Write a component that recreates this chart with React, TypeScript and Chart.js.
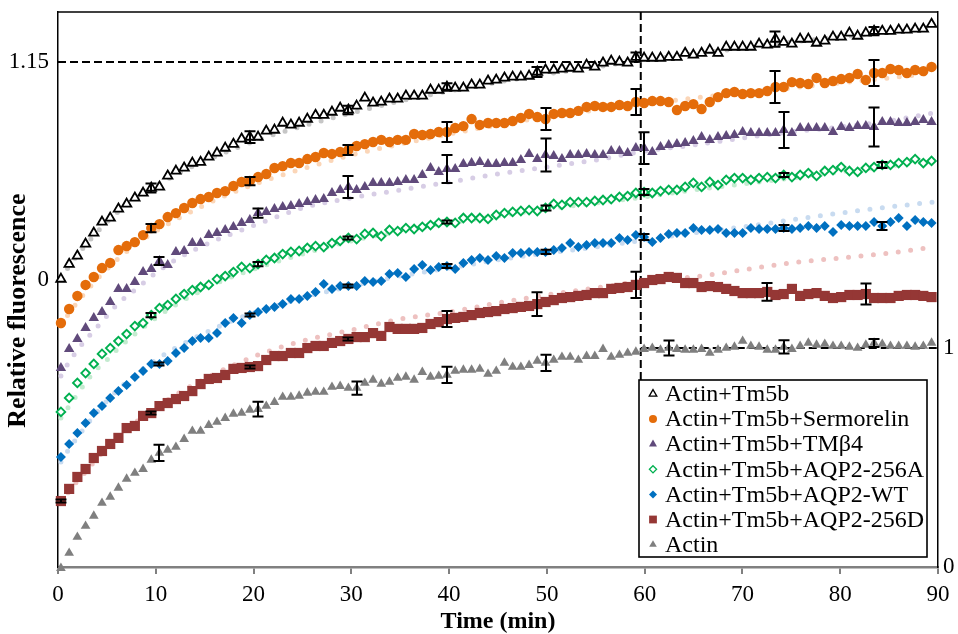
import { useEffect, useRef } from 'react';
import { Chart, registerables } from 'chart.js';

Chart.register(...registerables);

const SERIF = '"Liberation Serif", "Times New Roman", Times, serif';

// Plate-reader read times (min)
const TIMES = [
  0.3, 1.14, 1.98, 2.82, 3.66, 4.5, 5.34, 6.18, 7.02, 7.86,
  8.7, 9.54, 10.38, 11.22, 12.06, 12.9, 13.74, 14.58, 15.42, 16.26,
  17.1, 17.94, 18.78, 19.62, 20.46, 21.3, 22.14, 22.98, 23.82, 24.66,
  25.5, 26.34, 27.18, 28.02, 28.86, 29.7, 30.54, 31.38, 32.22, 33.06,
  33.9, 34.74, 35.58, 36.42, 37.26, 38.1, 38.94, 39.78, 40.62, 41.46,
  42.3, 43.14, 43.98, 44.82, 45.66, 46.5, 47.34, 48.18, 49.02, 49.86,
  50.7, 51.54, 52.38, 53.22, 54.06, 54.9, 55.74, 56.58, 57.42, 58.26,
  59.1, 59.94, 60.78, 61.62, 62.46, 63.3, 64.14, 64.98, 65.82, 66.66,
  67.5, 68.34, 69.18, 70.02, 70.86, 71.7, 72.54, 73.38, 74.22, 75.06,
  75.9, 76.74, 77.58, 78.42, 79.26, 80.1, 80.94, 81.78, 82.62, 83.46,
  84.3, 85.14, 85.98, 86.82, 87.66, 88.5, 89.34,
];

// Relative fluorescence, left axis
const ACTIN_TM5B = [
  0.005, 0.084, 0.127, 0.19, 0.248, 0.306, 0.327, 0.375, 0.401, 0.433,
  0.459, 0.485, 0.491, 0.549, 0.575, 0.591, 0.617, 0.622, 0.649, 0.67,
  0.696, 0.717, 0.744, 0.754, 0.754, 0.786, 0.791, 0.828, 0.818, 0.828,
  0.849, 0.87, 0.87, 0.886, 0.907, 0.897, 0.918, 0.96, 0.934, 0.939,
  0.955, 0.955, 0.971, 0.971, 0.971, 1.002, 1.002, 1.018, 1.013, 1.013,
  1.029, 1.029, 1.05, 1.055, 1.066, 1.071, 1.071, 1.076, 1.097, 1.108,
  1.108, 1.113, 1.118, 1.113, 1.134, 1.124, 1.145, 1.155, 1.15, 1.145,
  1.176, 1.171, 1.171, 1.171, 1.176, 1.176, 1.197, 1.187, 1.197, 1.213,
  1.197, 1.229, 1.229, 1.229, 1.229, 1.245, 1.24, 1.271, 1.255, 1.245,
  1.271, 1.271, 1.25, 1.261, 1.282, 1.282, 1.303, 1.287, 1.303, 1.313,
  1.313, 1.313, 1.319, 1.319, 1.324, 1.324, 1.35,
];

const SERMORELIN = [
  -0.227, -0.153, -0.084, -0.026, 0.016, 0.063, 0.09, 0.158, 0.179, 0.2,
  0.237, 0.274, 0.295, 0.332, 0.353, 0.38, 0.406, 0.427, 0.438, 0.459,
  0.469, 0.496, 0.517, 0.522, 0.543, 0.559, 0.591, 0.601, 0.617, 0.617,
  0.638, 0.649, 0.67, 0.665, 0.675, 0.686, 0.707, 0.717, 0.728, 0.739,
  0.728, 0.739, 0.739, 0.77, 0.765, 0.77, 0.781, 0.781, 0.802, 0.812,
  0.849, 0.818, 0.828, 0.828, 0.828, 0.839, 0.855, 0.876, 0.86, 0.849,
  0.876, 0.881, 0.881, 0.892, 0.913, 0.918, 0.913, 0.913, 0.923, 0.918,
  0.939, 0.934, 0.944, 0.944, 0.939, 0.897, 0.918, 0.928, 0.902, 0.939,
  0.965, 0.986, 0.992, 0.981, 0.986, 0.986, 0.997, 1.018, 1.018, 1.044,
  1.039, 1.034, 1.066, 1.039, 1.05, 1.06, 1.066, 1.087, 1.055, 1.092,
  1.092, 1.113, 1.108, 1.092, 1.108, 1.102, 1.124,
];

const TMB4 = [
  -0.464, -0.364, -0.311, -0.253, -0.2, -0.169, -0.116, -0.047, -0.047, -0.011,
  0.042, 0.058, 0.1, 0.079, 0.148, 0.153, 0.195, 0.195, 0.237, 0.248,
  0.264, 0.28, 0.301, 0.317, 0.353, 0.359, 0.375, 0.385, 0.39, 0.401,
  0.411, 0.422, 0.427, 0.459, 0.475, 0.491, 0.475, 0.491, 0.512, 0.512,
  0.512, 0.517, 0.528, 0.528, 0.554, 0.591, 0.57, 0.586, 0.586, 0.612,
  0.617, 0.622, 0.612, 0.612, 0.617, 0.617, 0.633, 0.665, 0.638, 0.659,
  0.654, 0.638, 0.659, 0.659, 0.665, 0.659, 0.659, 0.68, 0.68, 0.67,
  0.696, 0.696, 0.675, 0.702, 0.712, 0.717, 0.723, 0.733, 0.754, 0.739,
  0.754, 0.76, 0.765, 0.781, 0.775, 0.775, 0.775, 0.775, 0.791, 0.775,
  0.802, 0.802, 0.802, 0.802, 0.781, 0.807, 0.802, 0.812, 0.812, 0.807,
  0.833, 0.833, 0.828, 0.828, 0.833, 0.844, 0.833,
];

const AQP2_256A = [
  -0.696, -0.622, -0.543, -0.491, -0.443, -0.39, -0.359, -0.322, -0.285, -0.243,
  -0.227, -0.185, -0.148, -0.132, -0.1, -0.074, -0.053, -0.037, -0.026, 0.005,
  0.021, 0.042, 0.069, 0.063, 0.084, 0.106, 0.116, 0.137, 0.148, 0.153,
  0.169, 0.179, 0.174, 0.195, 0.206, 0.222, 0.216, 0.243, 0.248, 0.232,
  0.264, 0.258, 0.274, 0.269, 0.28, 0.29, 0.301, 0.306, 0.301, 0.327,
  0.327, 0.327, 0.322, 0.343, 0.353, 0.359, 0.364, 0.369, 0.364, 0.38,
  0.401, 0.396, 0.411, 0.411, 0.411, 0.417, 0.422, 0.427, 0.438, 0.443,
  0.459, 0.464, 0.459, 0.469, 0.475, 0.475, 0.491, 0.512, 0.491, 0.517,
  0.501, 0.528, 0.538, 0.538, 0.528, 0.538, 0.543, 0.538, 0.554, 0.543,
  0.554, 0.564, 0.549, 0.575, 0.58, 0.596, 0.575, 0.57, 0.591, 0.596,
  0.607, 0.607, 0.617, 0.622, 0.638, 0.617, 0.628,
];

const AQP2_WT = [
  -0.934, -0.865, -0.807, -0.754, -0.702, -0.665, -0.622, -0.586, -0.554, -0.512,
  -0.48, -0.443, -0.443, -0.427, -0.385, -0.359, -0.322, -0.306, -0.306, -0.28,
  -0.227, -0.2, -0.227, -0.185, -0.169, -0.153, -0.142, -0.127, -0.1, -0.1,
  -0.084, -0.063, -0.021, -0.047, -0.032, -0.032, -0.032, -0.005, -0.011, -0.005,
  0.032, 0.037, 0.016, 0.058, 0.079, 0.053, 0.069, 0.074, 0.058, 0.09,
  0.106, 0.116, 0.106, 0.127, 0.116, 0.142, 0.142, 0.148, 0.148, 0.148,
  0.158, 0.169, 0.195, 0.174, 0.185, 0.195, 0.195, 0.195, 0.222, 0.211,
  0.237, 0.227, 0.2, 0.222, 0.243, 0.248, 0.248, 0.274, 0.264, 0.264,
  0.269, 0.248, 0.248, 0.248, 0.274, 0.269, 0.269, 0.269, 0.274, 0.269,
  0.274, 0.285, 0.274, 0.285, 0.253, 0.29, 0.285, 0.285, 0.285, 0.306,
  0.285, 0.306, 0.327, 0.285, 0.317, 0.306, 0.301,
];

const AQP2_256D = [
  -1.166, -1.102, -1.039, -0.997, -0.939, -0.902, -0.865, -0.833, -0.781, -0.77,
  -0.717, -0.702, -0.665, -0.649, -0.628, -0.612, -0.586, -0.549, -0.522, -0.517,
  -0.501, -0.469, -0.464, -0.459, -0.454, -0.422, -0.401, -0.401, -0.385, -0.385,
  -0.359, -0.348, -0.348, -0.332, -0.322, -0.311, -0.301, -0.301, -0.28, -0.295,
  -0.248, -0.258, -0.258, -0.258, -0.253, -0.232, -0.222, -0.206, -0.2, -0.195,
  -0.185, -0.174, -0.169, -0.164, -0.153, -0.148, -0.142, -0.137, -0.127, -0.116,
  -0.106, -0.095, -0.09, -0.084, -0.079, -0.069, -0.069, -0.047, -0.042, -0.037,
  -0.026, -0.016, 0.0, 0.005, 0.016, 0.011, -0.016, -0.016, -0.037, -0.032,
  -0.037, -0.047, -0.058, -0.069, -0.069, -0.069, -0.063, -0.079, -0.074, -0.047,
  -0.084, -0.074, -0.069, -0.084, -0.095, -0.09, -0.079, -0.079, -0.074, -0.095,
  -0.095, -0.095, -0.084, -0.079, -0.079, -0.084, -0.09,
];

// Actin alone, right axis
const ACTIN = [
  -0.005, 0.064, 0.137, 0.187, 0.233, 0.292, 0.32, 0.361, 0.402, 0.429,
  0.447, 0.489, 0.521, 0.534, 0.548, 0.584, 0.621, 0.621, 0.648, 0.662,
  0.68, 0.699, 0.703, 0.717, 0.721, 0.735, 0.753, 0.776, 0.776, 0.781,
  0.795, 0.799, 0.799, 0.822, 0.826, 0.817, 0.817, 0.84, 0.854, 0.836,
  0.845, 0.863, 0.868, 0.854, 0.89, 0.868, 0.872, 0.877, 0.895, 0.9,
  0.9, 0.904, 0.881, 0.895, 0.932, 0.913, 0.913, 0.922, 0.941, 0.932,
  0.945, 0.959, 0.959, 0.945, 0.963, 0.963, 0.995, 0.959, 0.968, 0.977,
  0.982, 0.995, 1.0, 0.991, 1.0, 0.995, 0.991, 0.991, 0.995, 0.977,
  0.991, 1.0, 1.005, 1.032, 1.009, 1.005, 0.991, 0.991, 1.005, 0.995,
  1.009, 1.023, 1.014, 1.018, 1.009, 1.009, 1.005, 1.0, 1.014, 1.023,
  1.018, 1.009, 1.009, 1.009, 1.005, 1.009, 1.023,
];

// Fitted curves (dotted)
const FIT_TIMES = [0.3, 1, 2, 3, 4, 5, 6, 8, 10, 12, 15, 18, 21, 25, 30, 35, 40, 45, 50, 55, 60, 65, 70, 75, 80, 85, 89.5];
const FIT_TM5B = [0.005, 0.063, 0.132, 0.195, 0.253, 0.306, 0.353, 0.433, 0.496, 0.554, 0.628, 0.691, 0.749, 0.812, 0.881, 0.944, 0.997, 1.044, 1.087, 1.124, 1.161, 1.192, 1.224, 1.255, 1.282, 1.308, 1.335];
const FIT_SERMORELIN = [-0.243, -0.185, -0.116, -0.053, 0.005, 0.058, 0.106, 0.19, 0.258, 0.317, 0.396, 0.464, 0.522, 0.586, 0.659, 0.717, 0.77, 0.818, 0.86, 0.897, 0.928, 0.96, 0.986, 1.013, 1.039, 1.066, 1.092];
const FIT_TMB4 = [-0.506, -0.443, -0.369, -0.306, -0.248, -0.19, -0.132, -0.047, 0.037, 0.106, 0.185, 0.248, 0.306, 0.38, 0.433, 0.475, 0.517, 0.559, 0.596, 0.633, 0.68, 0.712, 0.749, 0.781, 0.807, 0.839, 0.881];
const FIT_256A = [-0.728, -0.675, -0.601, -0.528, -0.469, -0.422, -0.369, -0.28, -0.2, -0.132, -0.047, 0.021, 0.074, 0.137, 0.206, 0.258, 0.301, 0.338, 0.375, 0.406, 0.438, 0.475, 0.506, 0.538, 0.57, 0.601, 0.628];
const FIT_WT = [-0.96, -0.902, -0.828, -0.76, -0.696, -0.638, -0.586, -0.496, -0.422, -0.359, -0.28, -0.211, -0.158, -0.095, -0.032, 0.021, 0.063, 0.106, 0.142, 0.174, 0.211, 0.248, 0.28, 0.317, 0.353, 0.385, 0.411];
const FIT_256D = [-1.176, -1.124, -1.06, -1.002, -0.939, -0.886, -0.833, -0.749, -0.675, -0.607, -0.522, -0.448, -0.385, -0.322, -0.264, -0.206, -0.169, -0.121, -0.079, -0.042, -0.005, 0.016, 0.053, 0.09, 0.116, 0.142, 0.174];

// Standard deviations: reading index and half-length
const SD_AT_TM5B = [11, 23, 35, 47, 58, 70, 87, 99];
const SD_TM5B = [0.024, 0.031, 0.022, 0.02, 0.026, 0.024, 0.04, 0.022];
const SD_AT_SERMORELIN = [11, 23, 35, 47, 59, 70, 87, 99];
const SD_SERMORELIN = [0.022, 0.022, 0.026, 0.053, 0.058, 0.069, 0.084, 0.069];
const SD_AT_TMB4 = [12, 24, 35, 47, 59, 71, 88, 99];
const SD_TMB4 = [0.021, 0.024, 0.058, 0.074, 0.087, 0.084, 0.095, 0.103];
const SD_AT_256A = [11, 24, 35, 47, 59, 71, 88, 100];
const SD_256A = [0.011, 0.011, 0.008, 0.008, 0.013, 0.016, 0.011, 0.016];
const SD_AT_WT = [12, 23, 35, 47, 59, 71, 88, 100];
const SD_WT = [0.008, 0.008, 0.008, 0.011, 0.011, 0.016, 0.016, 0.021];
const SD_AT_256D = [0, 11, 23, 35, 47, 58, 70, 86, 98];
const SD_256D = [0.008, 0.008, 0.008, 0.008, 0.042, 0.063, 0.069, 0.047, 0.055];
const SD_AT_ACTIN = [12, 24, 36, 47, 59, 74, 88, 99];
const SD_ACTIN = [0.037, 0.034, 0.03, 0.037, 0.037, 0.034, 0.03, 0.018];

const X_TICK_STEP = 10;
const LEFT_TICKS = [0, 1.15];
const RIGHT_TICKS = [0, 1];
const MARK_TIME = 59.6;
const MARK_LEFT = 1.15;
const MARK_RIGHT = 1;
const Y_TITLE = 'Relative fluorescence';

type Marker = 'triangle' | 'circle' | 'rectRot' | 'rect';
interface SeriesDef {
  label: string;
  values: number[];
  axis: 'y' | 'y2';
  marker: Marker;
  radius: number;
  legendRadius: number;
  fill: string;
  stroke: string;
  lineWidth: number;
  sdAt: number[];
  sd: number[];
  fit?: number[];
  fitColor?: string;
}

const SERIES: SeriesDef[] = [
  { label: 'Actin+Tm5b', values: ACTIN_TM5B, axis: 'y', marker: 'triangle', radius: 5.4, legendRadius: 4.4, fill: '#FFFFFF', stroke: '#000000', lineWidth: 1.8, sdAt: SD_AT_TM5B, sd: SD_TM5B, fit: FIT_TM5B, fitColor: '#C6C6C6' },
  { label: 'Actin+Tm5b+Sermorelin', values: SERMORELIN, axis: 'y', marker: 'circle', radius: 5.2, legendRadius: 4, fill: '#E46C0A', stroke: '#E46C0A', lineWidth: 0, sdAt: SD_AT_SERMORELIN, sd: SD_SERMORELIN, fit: FIT_SERMORELIN, fitColor: '#FBD6B8' },
  { label: 'Actin+Tm5b+TMβ4', values: TMB4, axis: 'y', marker: 'triangle', radius: 6, legendRadius: 4.6, fill: '#604A7B', stroke: '#604A7B', lineWidth: 0, sdAt: SD_AT_TMB4, sd: SD_TMB4, fit: FIT_TMB4, fitColor: '#D7CDE5' },
  { label: 'Actin+Tm5b+AQP2-256A', values: AQP2_256A, axis: 'y', marker: 'rectRot', radius: 4.3, legendRadius: 3.6, fill: '#FFFFFF', stroke: '#00B050', lineWidth: 1.9, sdAt: SD_AT_256A, sd: SD_256A, fit: FIT_256A, fitColor: '#C4EBD0' },
  { label: 'Actin+Tm5b+AQP2-WT', values: AQP2_WT, axis: 'y', marker: 'rectRot', radius: 5, legendRadius: 4, fill: '#0070C0', stroke: '#0070C0', lineWidth: 0, sdAt: SD_AT_WT, sd: SD_WT, fit: FIT_WT, fitColor: '#C8DBF0' },
  { label: 'Actin+Tm5b+AQP2-256D', values: AQP2_256D, axis: 'y', marker: 'rect', radius: 7.2, legendRadius: 5.5, fill: '#953735', stroke: '#953735', lineWidth: 0, sdAt: SD_AT_256D, sd: SD_256D, fit: FIT_256D, fitColor: '#EEC1C0' },
  { label: 'Actin', values: ACTIN, axis: 'y2', marker: 'triangle', radius: 5.6, legendRadius: 4.4, fill: '#7F7F7F', stroke: '#7F7F7F', lineWidth: 0, sdAt: SD_AT_ACTIN, sd: SD_ACTIN },
];

const toPoints = (times: number[], vals: number[]) => vals.map((v, i) => ({ x: times[i], y: v }));

function drawMarker(ctx: CanvasRenderingContext2D, m: Marker, x: number, y: number, r: number, fill: string, stroke: string, lw: number) {
  ctx.beginPath();
  if (m === 'circle') {
    ctx.arc(x, y, r, 0, Math.PI * 2);
  } else if (m === 'triangle') {
    ctx.moveTo(x, y - r);
    ctx.lineTo(x + r * 0.866, y + r / 2);
    ctx.lineTo(x - r * 0.866, y + r / 2);
    ctx.closePath();
  } else if (m === 'rectRot') {
    ctx.moveTo(x, y - r);
    ctx.lineTo(x + r, y);
    ctx.lineTo(x, y + r);
    ctx.lineTo(x - r, y);
    ctx.closePath();
  } else {
    const s = r * Math.SQRT1_2;
    ctx.rect(x - s, y - s, 2 * s, 2 * s);
  }
  ctx.fillStyle = fill;
  ctx.fill();
  if (lw > 0) {
    ctx.lineWidth = lw;
    ctx.strokeStyle = stroke;
    ctx.stroke();
  }
}

function legendBox(a: { left: number; top: number; right: number; bottom: number }) {
  const right = a.right - 11;
  const bottom = a.bottom - 10;
  return { left: right - 288, top: bottom - 177, right, bottom };
}

const overlayPlugin = {
  id: 'overlay',
  beforeDatasetsDraw(chart: any) {
    const { ctx, chartArea: a, scales } = chart;
    const xm = scales.x.getPixelForValue(MARK_TIME);
    const yLeft = scales.y.getPixelForValue(MARK_LEFT);
    const yRight = scales.y2.getPixelForValue(MARK_RIGHT);
    const box = legendBox(a);
    ctx.save();
    ctx.strokeStyle = '#000';
    ctx.lineWidth = 2;
    ctx.setLineDash([8, 4]);
    ctx.beginPath();
    ctx.moveTo(a.left, yLeft);
    ctx.lineTo(xm, yLeft);
    ctx.stroke();
    ctx.beginPath();
    ctx.moveTo(xm, a.top);
    ctx.lineTo(xm, box.top);
    ctx.stroke();
    ctx.beginPath();
    ctx.moveTo(xm, yRight);
    ctx.lineTo(a.right, yRight);
    ctx.stroke();
    ctx.restore();
  },
  afterDatasetsDraw(chart: any) {
    const { ctx, chartArea: a, scales } = chart;
    ctx.save();
    ctx.setLineDash([]);
    // standard-deviation bars
    ctx.strokeStyle = '#000';
    ctx.lineWidth = 2;
    SERIES.forEach((s) => {
      const ys = scales[s.axis];
      s.sdAt.forEach((idx, k) => {
        const px = Math.round(scales.x.getPixelForValue(TIMES[idx]));
        const v = s.values[idx];
        const top = ys.getPixelForValue(v + s.sd[k]);
        const bot = ys.getPixelForValue(v - s.sd[k]);
        ctx.beginPath();
        ctx.moveTo(px, top);
        ctx.lineTo(px, bot);
        ctx.moveTo(px - 5.5, top);
        ctx.lineTo(px + 5.5, top);
        ctx.moveTo(px - 5.5, bot);
        ctx.lineTo(px + 5.5, bot);
        ctx.stroke();
      });
    });
    // top frame
    ctx.lineWidth = 1.5;
    ctx.beginPath();
    ctx.moveTo(a.left, a.top);
    ctx.lineTo(a.right, a.top);
    ctx.stroke();
    // legend
    const box = legendBox(a);
    ctx.fillStyle = '#fff';
    ctx.fillRect(box.left, box.top, box.right - box.left, box.bottom - box.top);
    ctx.strokeStyle = '#000';
    ctx.lineWidth = 1.6;
    ctx.strokeRect(box.left, box.top, box.right - box.left, box.bottom - box.top);
    ctx.font = `24px ${SERIF}`;
    ctx.textBaseline = 'middle';
    ctx.textAlign = 'left';
    SERIES.forEach((s, k) => {
      const cy = box.top + 14 + k * 25.1;
      drawMarker(ctx, s.marker, box.left + 14, cy, s.legendRadius, s.fill, s.stroke, s.lineWidth > 0 ? 1.3 : 0);
      ctx.fillStyle = '#000';
      ctx.fillText(s.label, box.left + 26, cy + 1);
    });
    ctx.restore();
  },
  afterDraw(chart: any) {
    // vertical axis title, set a little below the plot's midline
    const { ctx, chartArea: a } = chart;
    ctx.save();
    ctx.translate(18.5, a.top + (a.bottom - a.top) * 0.538);
    ctx.rotate(-Math.PI / 2);
    ctx.font = `bold 26px ${SERIF}`;
    ctx.fillStyle = '#000';
    ctx.textAlign = 'center';
    ctx.textBaseline = 'middle';
    ctx.fillText(Y_TITLE, 0, 0);
    ctx.restore();
  },
};

export default function App() {
  const ref = useRef<HTMLCanvasElement>(null);

  useEffect(() => {
    const canvas = ref.current;
    if (!canvas) return;

    const fitSets = SERIES.filter((s) => s.fit).map((s) => ({
      label: `${s.label} fit`,
      data: toPoints(FIT_TIMES, s.fit as number[]),
      yAxisID: s.axis,
      showLine: true,
      pointRadius: 0,
      borderColor: s.fitColor,
      borderWidth: 5,
      borderDash: [0, 12.5],
      borderCapStyle: 'round',
      cubicInterpolationMode: 'monotone',
      fill: false,
      order: 10,
      clip: false,
    }));

    const markerSets = SERIES.map((s) => ({
      label: s.label,
      data: toPoints(TIMES, s.values),
      yAxisID: s.axis,
      showLine: false,
      pointStyle: s.marker,
      pointRadius: s.radius,
      pointBackgroundColor: s.fill,
      pointBorderColor: s.stroke,
      pointBorderWidth: s.lineWidth,
      order: 1,
      clip: false,
    }));

    const chart = new Chart(canvas, {
      type: 'scatter',
      data: { datasets: [...markerSets, ...fitSets] as any },
      options: {
        animation: false,
        responsive: false,
        devicePixelRatio: 1,
        events: [],
        layout: { padding: { top: 12, left: 0, right: 0, bottom: 0 } },
        plugins: { legend: { display: false }, tooltip: { enabled: false } },
        scales: {
          x: {
            type: 'linear',
            min: 0,
            max: 90,
            ticks: { stepSize: X_TICK_STEP, color: '#000', padding: 7, font: { family: SERIF, size: 23 } },
            grid: { drawOnChartArea: false, drawTicks: true, tickLength: 7, color: '#808080', lineWidth: 2 },
            border: { display: true, color: '#808080', width: 2.5 },
            title: { display: true, text: 'Time (min)', color: '#000', padding: 0, font: { family: SERIF, size: 24, weight: 'bold', lineHeight: 1 } },
            afterFit: (s: any) => {
              s.height = 67;
              s.paddingLeft = 0;
              s.paddingRight = 0;
            },
          },
          y: {
            position: 'left',
            min: -1.514,
            max: 1.4138,
            afterBuildTicks: (s: any) => {
              s.ticks = LEFT_TICKS.map((v) => ({ value: v }));
            },
            ticks: { color: '#000', padding: 9, font: { family: SERIF, size: 23 }, callback: (v: any) => String(v) },
            grid: { display: false, drawTicks: false },
            border: { display: true, color: '#000', width: 1.5 },
            afterFit: (s: any) => {
              s.width = 58;
              s.paddingTop = 0;
              s.paddingBottom = 0;
            },
          },
          y2: {
            position: 'right',
            min: 0,
            max: 2.5342,
            afterBuildTicks: (s: any) => {
              s.ticks = RIGHT_TICKS.map((v) => ({ value: v }));
            },
            ticks: { color: '#000', padding: 5, font: { family: SERIF, size: 23 }, callback: (v: any) => String(v) },
            grid: { display: false, drawTicks: false },
            border: { display: true, color: '#000', width: 1.5 },
            afterFit: (s: any) => {
              s.width = 20;
              s.paddingTop = 0;
              s.paddingBottom = 0;
            },
          },
        },
      } as any,
      plugins: [overlayPlugin],
    });

    return () => chart.destroy();
  }, []);

  return (
    <div style={{ position: 'absolute', left: 0, top: 0, width: 958, height: 634, background: '#fff' }}>
      <canvas ref={ref} width={958} height={634} style={{ display: 'block', width: 958, height: 634 }} />
    </div>
  );
}
